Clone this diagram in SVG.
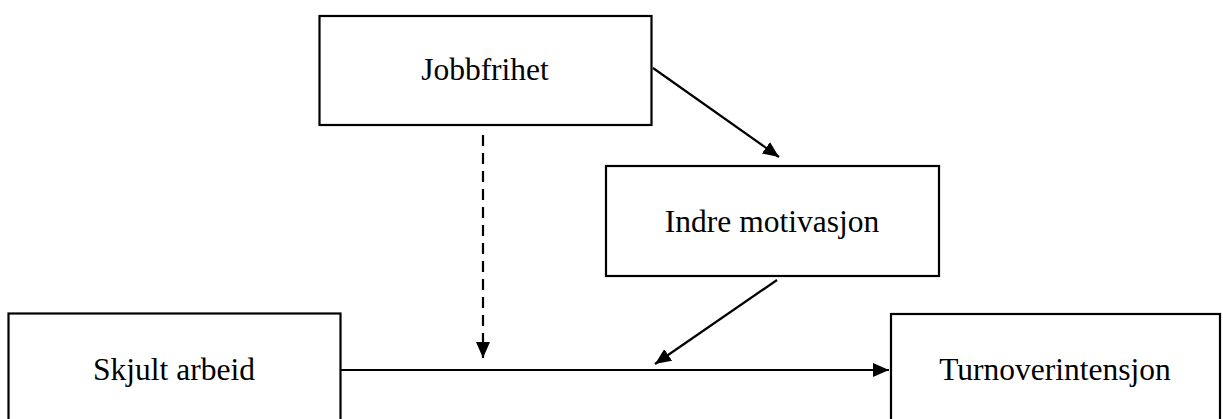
<svg xmlns="http://www.w3.org/2000/svg" width="1223" height="419" viewBox="0 0 1223 419">
<style>
.box{fill:#fff;stroke:#000;stroke-width:2.2}
.lbl{font-family:"Liberation Serif","Times New Roman",serif;font-size:31.5px;fill:#000;text-anchor:middle}
.con{stroke:#000;stroke-width:2.2;fill:none}
</style>
<defs>
<marker id="ah" viewBox="0 0 16 14" refX="16" refY="7" markerWidth="16" markerHeight="14" markerUnits="userSpaceOnUse" orient="auto">
<path d="M0,0 L16,7 L0,14 Z" fill="#000"/>
</marker>
</defs>
<rect width="1223" height="419" fill="#fff"/>
<g id="jobbfrihet">
<rect class="box" x="319.5" y="16" width="332" height="109"/>
<text class="lbl" x="485" y="80">Jobbfrihet</text>
</g>
<g id="indre-motivasjon">
<rect class="box" x="606" y="166" width="333" height="110"/>
<text class="lbl" x="772" y="232">Indre motivasjon</text>
</g>
<g id="skjult-arbeid">
<rect class="box" x="8.5" y="313.5" width="332" height="115"/>
<text class="lbl" x="174" y="380">Skjult arbeid</text>
</g>
<g id="turnoverintensjon">
<rect class="box" x="891" y="314" width="329" height="115"/>
<text class="lbl" x="1055" y="380">Turnoverintensjon</text>
</g>
<g id="connectors">
<line class="con" x1="341" y1="370" x2="889" y2="370" marker-end="url(#ah)"/>
<line class="con" x1="483" y1="135" x2="483" y2="358" stroke-dasharray="11 7" marker-end="url(#ah)"/>
<line class="con" x1="653" y1="68" x2="779" y2="157" marker-end="url(#ah)"/>
<line class="con" x1="777" y1="280" x2="655" y2="364" marker-end="url(#ah)"/>
</g>
</svg>
